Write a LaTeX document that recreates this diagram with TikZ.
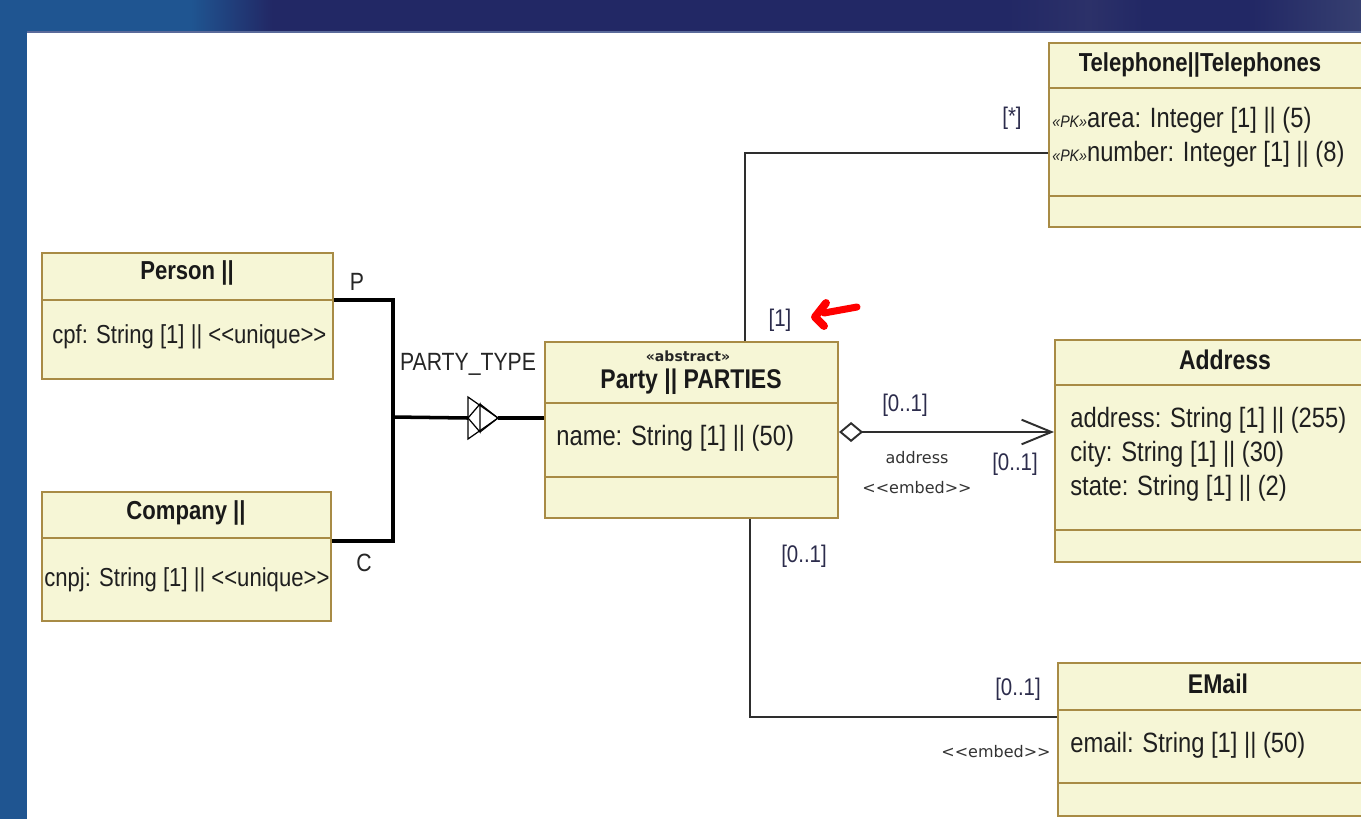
\documentclass[tikz,border=0pt]{standalone}
\usepackage{fontspec}
\setmainfont{Liberation Sans}[FakeStretch=0.85, Ligatures=TeXOff]
\newfontfamily\tagfont{DejaVu Sans}[Ligatures=TeXOff]
\usepackage{tikz}
\usetikzlibrary{arrows.meta}
\definecolor{classfill}{HTML}{F6F6D6}
\definecolor{classline}{HTML}{A88B45}
\definecolor{linkgray}{HTML}{2E2E2E}
\definecolor{multcolor}{HTML}{2C2C4C}
\definecolor{barblue}{HTML}{1F5591}
\definecolor{barnavy}{HTML}{222865}
\definecolor{barmid}{HTML}{2C3169}
\definecolor{barlight}{HTML}{363F70}
\definecolor{barrule}{HTML}{5A6A9A}
\pgfdeclarehorizontalshading{titlebar}{100bp}{color(0bp)=(barblue); color(25bp)=(barblue); color(32bp)=(barblue); color(35bp)=(barnavy); color(62bp)=(barnavy); color(65bp)=(barmid); color(67bp)=(barnavy); color(71bp)=(barnavy); color(75bp)=(barlight); color(100bp)=(barlight)}

\begin{document}
\begin{tikzpicture}[
    x=0.02cm, y=-0.02cm,
    classbox/.style={rectangle, draw=classline, fill=classfill, line width=1.2pt, inner sep=0pt},
    divider/.style={draw=classline, line width=1.2pt},
    classname/.style={font=\fontsize{14.8}{17}\selectfont\bfseries, text=black!90, inner sep=0pt},
    attrtext/.style={font=\fontsize{15.9}{19.3}\selectfont, text=black!88, anchor=west, inner sep=0pt, align=left},
    smallattr/.style={attrtext, font=\fontsize{14.8}{17}\selectfont},
    mult/.style={font=\fontsize{13.7}{16}\selectfont, text=multcolor, inner sep=0pt},
    tag/.style={font=\tagfont\fontsize{9.1}{11}\selectfont, text=black!80, inner sep=0pt},
    gentext/.style={font=\fontsize{14.2}{16}\selectfont, text=black!85, inner sep=0pt},
    link/.style={draw=linkgray, line width=1.1pt},
    genline/.style={draw=black, line width=2pt},
    gensym/.style={draw=black, line width=0.7pt},
]
    % -- frame of the slide --
    \useasboundingbox (0,0) rectangle (1361,819);
    \clip (0,0) rectangle (1361,819);
    \fill[white] (27,32) rectangle (1361,819);
    \fill[barblue] (0,0) rectangle (27,819);
    \shade[shading=titlebar] (0,0) rectangle (1361,32);
    \draw[barrule, line width=0.6pt] (27,32) -- (1361,32);

    % -- classes --
    \node[classbox, minimum width=5.82cm, minimum height=2.52cm] (person)  at (187.5,316)  {};
    \node[classbox, minimum width=5.78cm, minimum height=2.58cm] (company) at (186.5,556.5) {};
    \node[classbox, minimum width=5.86cm, minimum height=3.52cm] (party)   at (691.5,430)  {};
    \node[classbox, minimum width=6.62cm, minimum height=3.68cm] (phone)   at (1214.5,135) {};
    \node[classbox, minimum width=6.50cm, minimum height=4.44cm] (address) at (1217.5,451) {};
    \node[classbox, minimum width=6.44cm, minimum height=3.06cm] (email)   at (1219,739.5) {};

    \foreach \n/\y in {person/300, company/538, party/403, party/477,
                       phone/88, phone/196, address/385, address/530,
                       email/710, email/783}
        \draw[divider] (\n.west |- 0,\y) -- (\n.east |- 0,\y);

    % class texts
    \node[classname] (person-name) at (187,273) {Person ||};
    \node[smallattr] (person-attr) at (52,337) {cpf: String [1] || <<unique>>};

    \node[classname] (company-name) at (186,513) {Company ||};
    \node[smallattr] (company-attr) at (44,580) {cnpj: String [1] || <<unique>>};

    \node[font=\tagfont\bfseries\fontsize{8}{9}\selectfont, text=black!85, inner sep=0pt] (party-stereo) at (688,356) {«abstract»};
    \node[classname, font=\fontsize{15.4}{17}\selectfont\bfseries] (party-name) at (691,382) {Party || PARTIES};
    \node[attrtext] (party-attr) at (556,438) {name: String [1] || (50)};

    \node[classname] (phone-name) at (1200,65) {Telephone||Telephones};
    \node[attrtext] (phone-attr) at (1052,137)
        {{\fontsize{9.5}{11}\selectfont\itshape «PK»}area: Integer [1] || (5)\\
         {\fontsize{9.5}{11}\selectfont\itshape «PK»}number: Integer [1] || (8)};

    \node[classname, font=\fontsize{15.4}{17}\selectfont\bfseries] (address-name) at (1225,360) {Address};
    \node[attrtext] (address-attr) at (1070,454)
        {address: String [1] || (255)\\city: String [1] || (30)\\state: String [1] || (2)};

    \node[classname, font=\fontsize{15.4}{17}\selectfont\bfseries] (email-name) at (1218,684) {EMail};
    \node[attrtext] (email-attr) at (1070,745) {email: String [1] || (50)};

    % -- generalization --
    \coordinate (genjoin) at (393,417);
    \coordinate (genbase) at (468,418);
    \coordinate (gentip)  at (498,418);
    \draw[genline] (person.east |- 0,300) -| (genjoin) |- (company.east |- 0,541);
    \draw[genline] (genjoin) -- (genbase);
    \draw[gensym] (genbase) ++(0,-21) -- (gentip) -- ++(-30,21) -- cycle;
    \draw[gensym] (genbase) -- ++(12,-14) -- ++(0,28) -- cycle;
    \draw[gensym] (genbase) ++(12,-14) -- (gentip) -- ++(-18,14);
    \draw[genline] (gentip) -- (party.west |- gentip);
    \node[gentext] (gen-label) at (468,364) {PARTY\_TYPE};
    \node[gentext] (gen-p) at (357,282) {P};
    \node[gentext] (gen-c) at (364,563) {C};

    % -- associations --
    \draw[link] (party.north -| 745,0) |- (phone.west |- 0,153);
    \draw[link, {Diamond[open, fill=white, length=13.7pt, width=11.4pt]}-{Straight Barb[length=17pt, width=14pt]}]
        (party.east |- 0,432) -- (address.west |- 0,432);
    \draw[link] (party.south -| 750,0) |- (email.west |- 0,717);

    \node[mult] (m-phone)  at (1012,118) {[*]};
    \node[mult] (m-party1) at (780,320)  {[1]};
    \node[mult] (m-addr1)  at (905,405)  {[0..1]};
    \node[mult] (m-addr2)  at (1015,464) {[0..1]};
    \node[mult] (m-mail1)  at (804,556)  {[0..1]};
    \node[mult] (m-mail2)  at (1018,689) {[0..1]};
    \node[tag] (t-address) at (917,458) {address};
    \node[tag] (t-embed1)  at (917,488) {<<embed>>};
    \node[tag] (t-embed2)  at (996,752) {<<embed>>};

    % red pointer
    \draw[red, line width=4pt, line cap=round, line join=round] (857,307) -- (824,313);
    \draw[red, line width=4.5pt, line cap=round, line join=round] (826,303) -- (815,317) -- (824,326);
\end{tikzpicture}
\end{document}
